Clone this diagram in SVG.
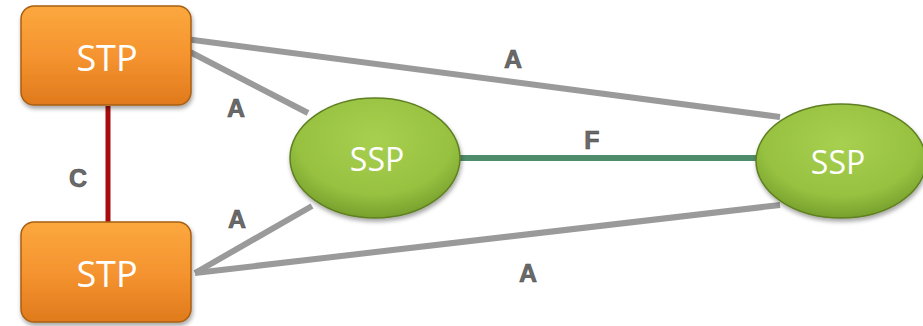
<svg xmlns="http://www.w3.org/2000/svg" width="923" height="326" viewBox="0 0 923 326">
<style>
.lbl{font-family:"Liberation Sans",Arial,sans-serif;font-weight:bold;font-size:25px;fill:#6a6a6a;stroke:#4a4a4a;stroke-width:0.6;text-anchor:middle}
.nt{font-family:"Open Sans","Liberation Sans",sans-serif;fill:#fff;text-anchor:middle}
.stp{fill:url(#og);stroke:#a85f14;stroke-width:1.5}
.ssp{fill:url(#gg);stroke:#5f7f22;stroke-width:1.5}
.a{stroke:#9a9a9a;stroke-width:6;fill:none}
</style>
<defs>
<linearGradient id="og" x1="0" y1="0" x2="0" y2="1">
<stop offset="0" stop-color="#fba83e"/><stop offset="0.5" stop-color="#f59430"/><stop offset="1" stop-color="#e07a1c"/>
</linearGradient>
<radialGradient id="gg" cx="0.5" cy="0.35" r="0.65">
<stop offset="0" stop-color="#a8d050"/><stop offset="0.7" stop-color="#97c140"/><stop offset="1" stop-color="#76a02c"/>
</radialGradient>
<filter id="sh" x="-10%" y="-10%" width="125%" height="130%">
<feDropShadow dx="1" dy="3" stdDeviation="2" flood-color="#000" flood-opacity="0.35"/>
</filter>
</defs>
<g id="connectors">
<line class="a" x1="178" y1="38" x2="780" y2="117"/>
<line class="a" x1="190" y1="52" x2="308" y2="113"/>
<line class="a" x1="195" y1="273" x2="312" y2="206"/>
<line class="a" x1="195" y1="273" x2="780" y2="205"/>
<line x1="108" y1="106" x2="108" y2="223" stroke="#a80d0d" stroke-width="5"/>
<line x1="455" y1="158" x2="758" y2="158" stroke="#4f8c6c" stroke-width="6"/>
</g>
<g id="stp1"><rect class="stp" x="21" y="6" width="170" height="99" rx="13" filter="url(#sh)"/><text class="nt" x="107" y="71" font-size="36">STP</text></g>
<g id="stp2"><rect class="stp" x="21" y="222" width="170" height="100" rx="13" filter="url(#sh)"/><text class="nt" x="107" y="287" font-size="36">STP</text></g>
<g id="ssp1"><ellipse class="ssp" cx="375" cy="158" rx="85" ry="60" filter="url(#sh)"/><text class="nt" x="377" y="171" font-size="32">SSP</text></g>
<g id="ssp2"><ellipse class="ssp" cx="841" cy="161" rx="85" ry="57" filter="url(#sh)"/><text class="nt" x="838" y="174" font-size="32">SSP</text></g>
<g id="labels">
<text class="lbl" x="513" y="68">A</text>
<text class="lbl" x="236" y="117">A</text>
<text class="lbl" x="237" y="228">A</text>
<text class="lbl" x="78" y="187">C</text>
<text class="lbl" x="592" y="149">F</text>
<text class="lbl" x="528" y="282">A</text>
</g>
</svg>
